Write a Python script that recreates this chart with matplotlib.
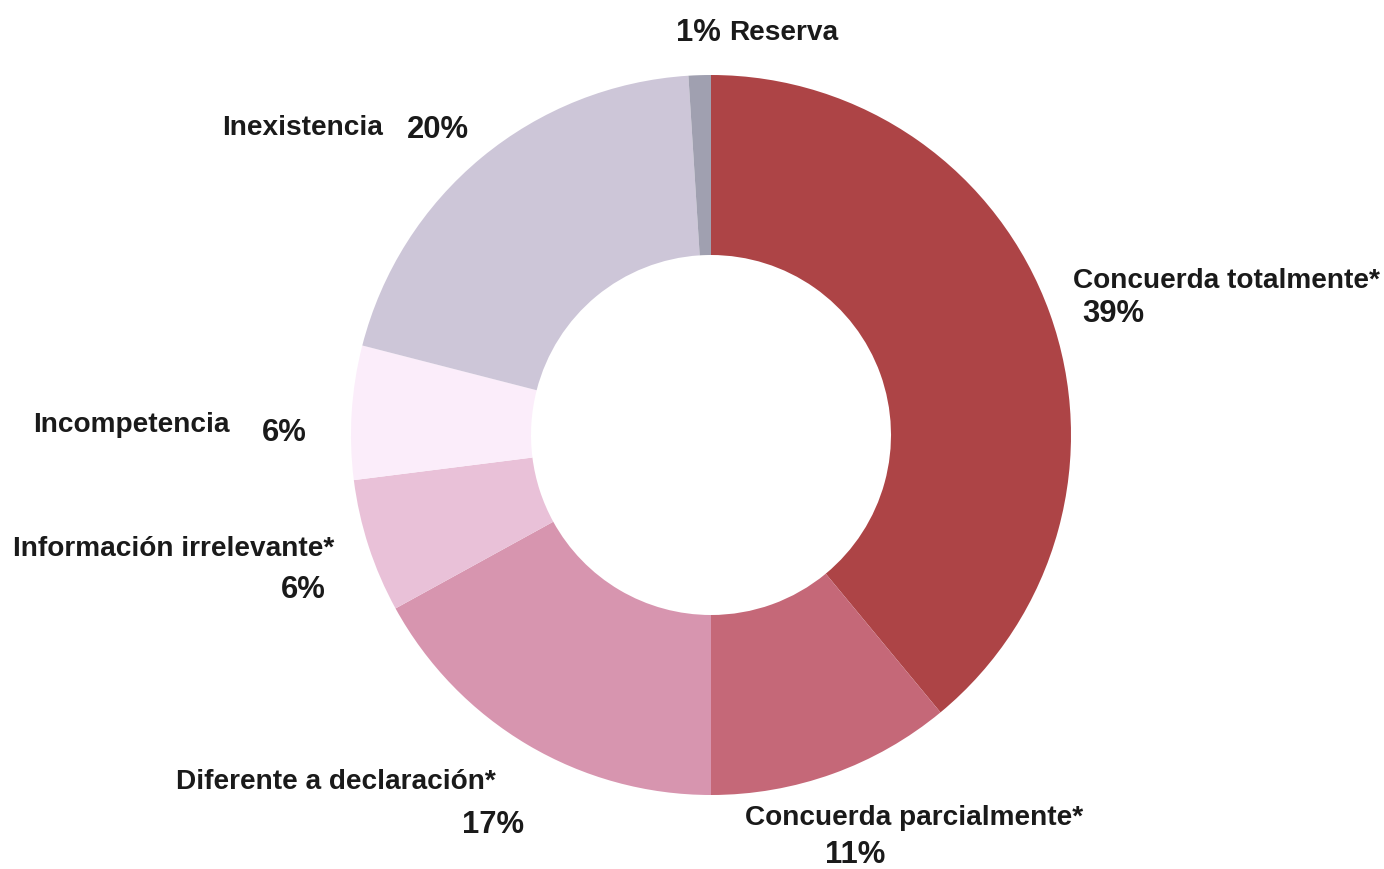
import matplotlib
matplotlib.use("Agg")
import matplotlib.pyplot as plt

categories = ["Concuerda totalmente*", "Concuerda parcialmente*", "Diferente a declaración*",
              "Información irrelevante*", "Incompetencia", "Inexistencia", "Reserva"]
values = [39, 11, 17, 6, 6, 20, 1]
pct_labels = ["39%", "11%", "17%", "6%", "6%", "20%", "1%"]
colors = ["#AD4446", "#C56878", "#D795AF", "#E9C1D8", "#FBEDFA", "#CDC6D8", "#A0A0B0"]

W, H = 1384, 869
fig = plt.figure(figsize=(W / 100, H / 100), dpi=100)
plt.rcParams['font.family'] = ['Liberation Sans', 'DejaVu Sans']

cx, cy, r = 711, 435, 360
ax = fig.add_axes([(cx - r) / W, (H - cy - r) / H, 2 * r / W, 2 * r / H])
ax.pie(values, colors=colors, startangle=90, counterclock=False, radius=1,
       wedgeprops=dict(width=0.5, edgecolor="none"))
ax.set_xlim(-1, 1)
ax.set_ylim(-1, 1)
ax.set_aspect("equal")
ax.axis("off")

fs_name = 20.2
fs_pct = 22.3

def txt(x, y, s, fs, ha="left"):
    fig.text(x / W, 1 - y / H, s, ha=ha, va="center", fontsize=fs,
             fontweight="bold", color="#1a1a1a")

# Reserva
txt(676, 33, pct_labels[6], fs_pct); txt(729, 33, categories[6], fs_name)
# Inexistencia
txt(222, 128, categories[5], fs_name); txt(407, 130, pct_labels[5], fs_pct)
# Concuerda totalmente
txt(1073, 281, categories[0], fs_name); txt(1082, 314, pct_labels[0], fs_pct)
# Incompetencia
txt(33, 425, categories[4], fs_name); txt(262, 433, pct_labels[4], fs_pct)
# Información irrelevante
txt(13, 549, categories[3], fs_name); txt(281, 590, pct_labels[3], fs_pct)
# Diferente a declaración
txt(176, 782, categories[2], fs_name); txt(462, 825, pct_labels[2], fs_pct)
# Concuerda parcialmente
txt(745, 818, categories[1], fs_name); txt(825, 855, pct_labels[1], fs_pct)

fig.savefig("out.png", dpi=100, facecolor="white")
